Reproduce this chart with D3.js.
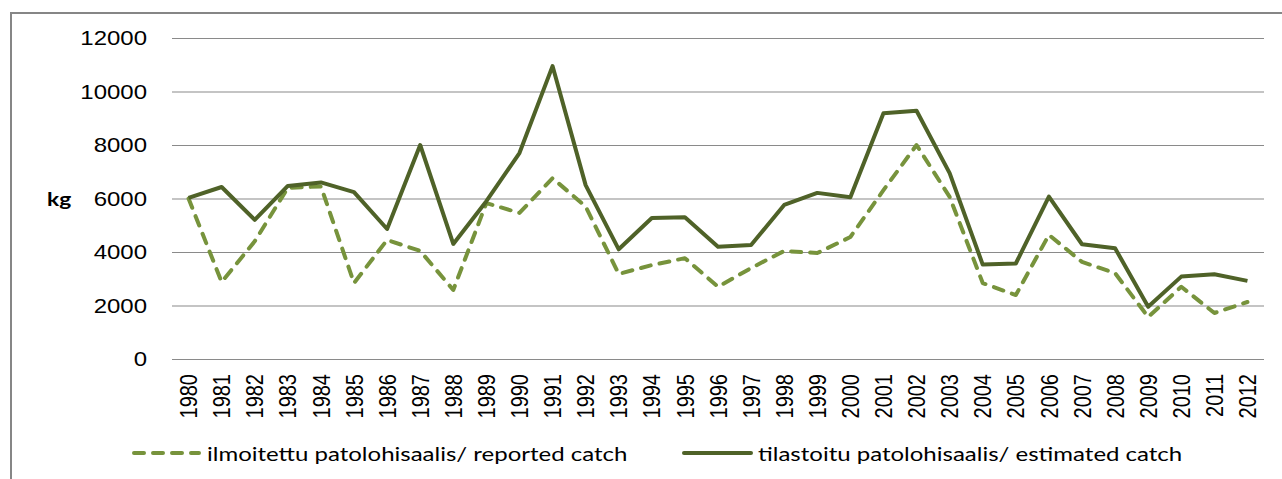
<!DOCTYPE html>
<html lang="fi">
<head>
  <meta charset="utf-8">
  <title>Patolohisaalis</title>
  <script src="https://d3js.org/d3.v7.min.js"></script>
  <style>
  body { margin: 0; background: #fff; }
  svg { font-family: Lato, "Noto Sans", sans-serif; }
  </style>
</head>
<body>
  <script>
  // data
  var years = d3.range(1980, 2013).map(String);
  var reported = [6000, 2880, 4400, 6400, 6450, 2840, 4450, 4040, 2580, 5830,
                  5460, 6760, 5700, 3180, 3510, 3770, 2700, 3400, 4040, 3960,
                  4560, 6310, 8000, 6060, 2840, 2390, 4640, 3630, 3210, 1570,
                  2700, 1720, 2130];
  var estimated = [6020, 6430, 5200, 6470, 6600, 6240, 4860, 8000, 4300, 5900,
                   7700, 10950, 6500, 4100, 5270, 5300, 4200, 4260, 5760, 6210,
                   6050, 9190, 9280, 6950, 3530, 3570, 6070, 4290, 4140, 1950,
                   3080, 3170, 2920];
  var yTicks = [0, 2000, 4000, 6000, 8000, 10000, 12000];
  var seriesNames = ["ilmoitettu patolohisaalis/ reported catch",
                     "tilastoitu patolohisaalis/ estimated catch"];

  var W = 1282, H = 479;
  var plotLeft = 172, plotRight = 1264, plotTop = 38, plotBottom = 359;
  var sx = 1.2; // text in the original is stretched horizontally
  var darkGreen = "#4f6228", lightGreen = "#77933c";

  var svg = d3.select("body").append("svg")
    .attr("width", W)
    .attr("height", H);

  // chart frame
  svg.append("rect")
    .attr("x", 11)
    .attr("y", 13)
    .attr("width", W)
    .attr("height", H)
    .attr("fill", "none")
    .attr("stroke", "#868686")
    .attr("stroke-width", 2);

  var x = d3.scalePoint().domain(years).range([plotLeft, plotRight]).padding(0.5);
  var y = d3.scaleLinear().domain([0, 12000]).range([plotBottom, plotTop]);

  // y axis with gridlines
  var yAxis = svg.append("g")
    .attr("transform", "translate(" + plotLeft + ",0)")
    .call(d3.axisLeft(y).tickValues(yTicks).tickFormat(d3.format("d"))
      .tickSize(-(plotRight - plotLeft)).tickPadding(0));
  yAxis.select(".domain").remove();
  yAxis.selectAll(".tick line")
    .attr("stroke", "#8a8a8a")
    .attr("stroke-width", 1.2);
  yAxis.selectAll(".tick text")
    .attr("x", null)
    .attr("dy", null)
    .attr("dominant-baseline", "central")
    .attr("text-anchor", "end")
    .attr("transform", "translate(-25,0) scale(" + sx + ",1)")
    .attr("font-size", 20)
    .attr("fill", "#000");

  // x axis labels (rotated)
  var xAxis = svg.append("g")
    .attr("transform", "translate(0," + plotBottom + ")")
    .call(d3.axisBottom(x).tickSize(0).tickPadding(0));
  xAxis.select(".domain").remove();
  xAxis.selectAll(".tick text")
    .attr("y", null)
    .attr("dy", null)
    .attr("dominant-baseline", "central")
    .attr("text-anchor", "end")
    .attr("transform", "translate(0,15) scale(" + sx + ",1) rotate(-90)")
    .attr("font-size", 20)
    .attr("fill", "#000");

  // y axis title
  svg.append("text")
    .attr("transform", "translate(47,198) scale(" + sx + ",1)")
    .attr("dominant-baseline", "central")
    .attr("font-size", 19)
    .attr("font-weight", "bold")
    .text("kg");

  var line = d3.line()
    .x(function(d, i) { return x(years[i]); })
    .y(function(d) { return y(d); });

  svg.append("path")
    .datum(reported)
    .attr("d", line)
    .attr("fill", "none")
    .attr("stroke", lightGreen)
    .attr("stroke-width", 4)
    .attr("stroke-linecap", "round")
    .attr("stroke-linejoin", "round")
    .attr("stroke-dasharray", "10,9");

  svg.append("path")
    .datum(estimated)
    .attr("d", line)
    .attr("fill", "none")
    .attr("stroke", darkGreen)
    .attr("stroke-width", 4)
    .attr("stroke-linejoin", "round");

  // legend
  var legendY = 453;
  var legendItems = [
    {name: seriesNames[0], x0: 134, x1: 199, color: lightGreen, dash: "10,9", tx: 207},
    {name: seriesNames[1], x0: 684, x1: 751, color: darkGreen, dash: null, tx: 758}
  ];
  var lg = svg.selectAll(".legend").data(legendItems).enter().append("g")
    .attr("class", "legend");
  lg.append("line")
    .attr("x1", function(d) { return d.x0; })
    .attr("x2", function(d) { return d.x1; })
    .attr("y1", legendY)
    .attr("y2", legendY)
    .attr("stroke", function(d) { return d.color; })
    .attr("stroke-width", 4)
    .attr("stroke-linecap", "round")
    .attr("stroke-dasharray", function(d) { return d.dash; });
  lg.append("text")
    .attr("transform", function(d) { return "translate(" + d.tx + "," + legendY + ") scale(" + sx + ",1)"; })
    .attr("dominant-baseline", "central")
    .attr("font-size", 20)
    .attr("fill", "#000")
    .text(function(d) { return d.name; });
  </script>
</body>
</html>
